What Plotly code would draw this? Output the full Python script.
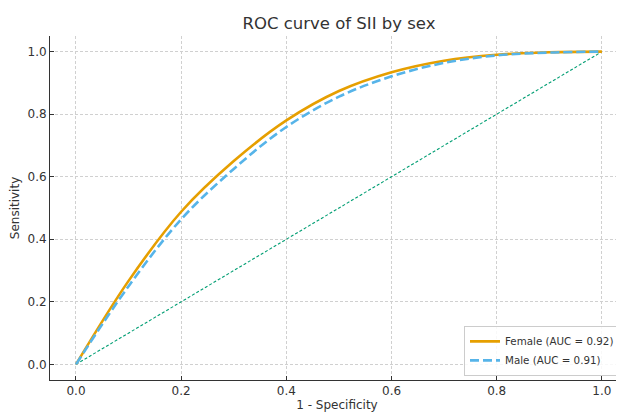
import plotly.graph_objects as go

fpr = [0.0, 0.1, 0.2, 0.3, 0.4, 0.5, 0.6, 0.7, 0.8, 0.9, 1.0]
tpr_female = [0.0, 0.267, 0.488, 0.650, 0.780, 0.874, 0.934, 0.971, 0.990, 0.998, 1.0]
tpr_male = [0.0, 0.250, 0.464, 0.625, 0.759, 0.856, 0.921, 0.964, 0.988, 0.997, 1.0]
diag = [0.0, 1.0]
auc_female = 0.92
auc_male = 0.91
tick_vals = [0.0, 0.2, 0.4, 0.6, 0.8, 1.0]

# The page body has an 8px default margin, so the figure is sized to fit inside the window.
W, H, OFF = 616, 404, 8

fig = go.Figure()
fig.add_trace(go.Scatter(x=diag, y=diag, mode="lines", showlegend=False,
                         line=dict(color="#009E73", width=1.1, dash="3px,2px")))
fig.add_trace(go.Scatter(x=fpr, y=tpr_female, mode="lines",
                         name=f"Female (AUC = {auc_female:.2f})",
                         line=dict(color="#E69F00", width=2.6, shape="spline", smoothing=1.0)))
fig.add_trace(go.Scatter(x=fpr, y=tpr_male, mode="lines",
                         name=f"Male (AUC = {auc_male:.2f})",
                         line=dict(color="#56B4E9", width=2.6, dash="9px,4px", shape="spline", smoothing=1.0)))

axis_common = dict(
    showgrid=True, gridcolor="#d0d0d0", gridwidth=0.8, griddash="3px,2px",
    showline=True, linecolor="#333333", linewidth=1,
    ticks="inside", ticklen=4, tickcolor="#333333", tickwidth=1,
    tickfont=dict(family="DejaVu Sans", size=12, color="#333333"),
    zeroline=False, tickvals=tick_vals, tickformat=".1f",
    mirror=False, automargin=False,
)

fig.update_layout(
    width=W, height=H,
    margin=dict(l=50 - OFF, r=0, t=36 - OFF, b=H - (380 - OFF), autoexpand=False),
    paper_bgcolor="white", plot_bgcolor="white",
    title=dict(text="ROC curve of SII by sex", x=(339 - OFF) / W, xanchor="center",
               y=1 - (23 - OFF) / H, yanchor="middle", automargin=False,
               font=dict(family="DejaVu Sans", size=16.5, color="#333333")),
    xaxis=dict(axis_common, range=[-0.0494, 1.042],
               title=dict(text="1 - Specificity", standoff=4,
                          font=dict(family="DejaVu Sans", size=12, color="#333333"))),
    yaxis=dict(axis_common, range=[-0.05, 1.05],
               title=dict(text="Sensitivity", standoff=5,
                          font=dict(family="DejaVu Sans", size=12, color="#333333"))),
    legend=dict(x=(464 - 50) / 574, y=0.012, xanchor="left", yanchor="bottom",
                bgcolor="rgba(255,255,255,0.85)", bordercolor="#cccccc", borderwidth=1,
                font=dict(family="DejaVu Sans", size=10.3, color="#333333"),
                itemwidth=30, tracegroupgap=0),
    showlegend=True,
)

fig.write_html("out.html")
